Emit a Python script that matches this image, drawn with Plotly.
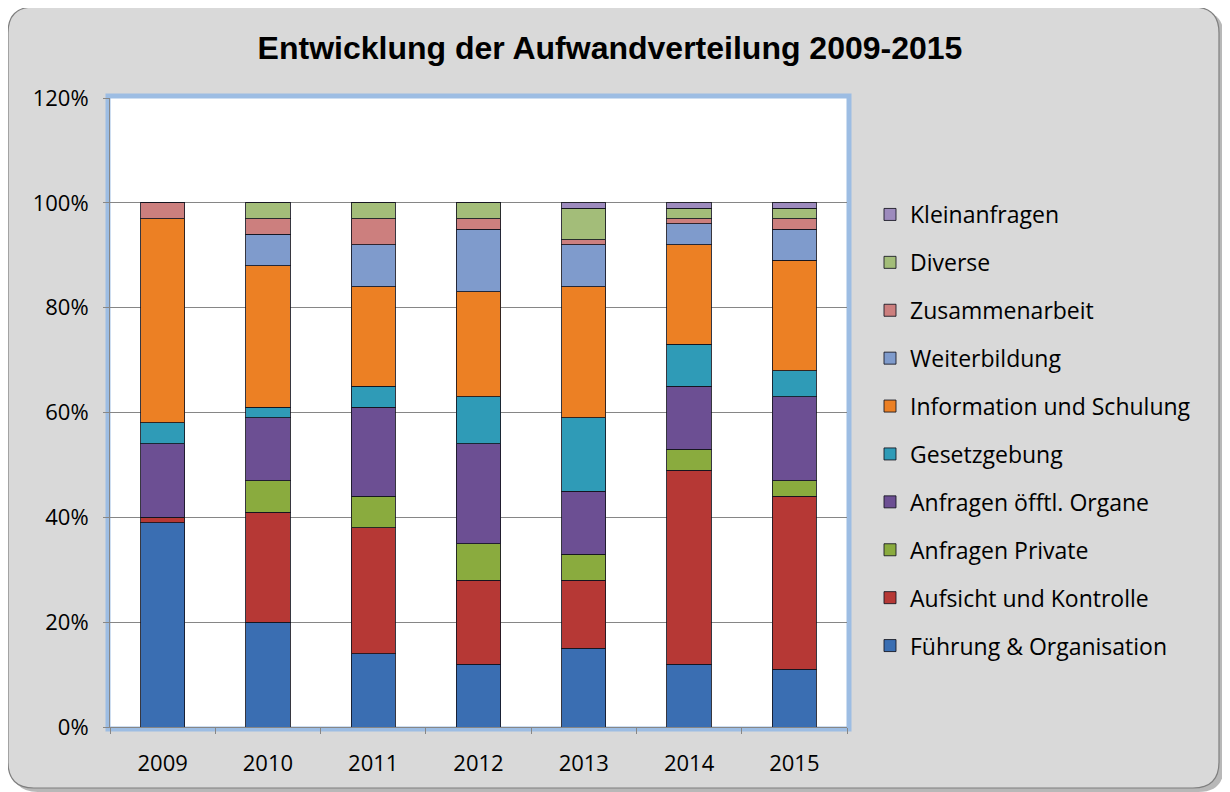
import plotly.graph_objects as go

years = ["2009", "2010", "2011", "2012", "2013", "2014", "2015"]

fuehrung = [39, 20, 14, 12, 15, 12, 11]
aufsicht = [1, 21, 24, 16, 13, 37, 33]
private = [0, 6, 6, 7, 5, 4, 3]
oeffentl = [14, 12, 17, 19, 12, 12, 16]
gesetz = [4, 2, 4, 9, 14, 8, 5]
information = [39, 27, 19, 20, 25, 19, 21]
weiterbildung = [0, 6, 8, 12, 8, 4, 6]
zusammenarbeit = [3, 3, 5, 2, 1, 1, 2]
diverse = [0, 3, 3, 3, 6, 2, 2]
kleinanfragen = [0, 0, 0, 0, 1, 1, 1]

series = [
    ("Führung & Organisation", fuehrung, "#3a6eb2"),
    ("Aufsicht und Kontrolle", aufsicht, "#b63835"),
    ("Anfragen Private", private, "#8aab3e"),
    ("Anfragen öfftl. Organe", oeffentl, "#6c4f93"),
    ("Gesetzgebung", gesetz, "#2f9bb7"),
    ("Information und Schulung", information, "#ec8024"),
    ("Weiterbildung", weiterbildung, "#7f9bcc"),
    ("Zusammenarbeit", zusammenarbeit, "#cc7f7e"),
    ("Diverse", diverse, "#a3bd79"),
    ("Kleinanfragen", kleinanfragen, "#9d8bbd"),
]

# page has an 8px body margin; work in page pixels and shift
OFF = 8
W, H = 1230 - OFF, 792 - OFF
PL, PR, PT, PB = 110 - OFF, 847 - OFF, 98 - OFF, 727 - OFF  # plot area in figure px
pw, ph = PR - PL, PB - PT


def px_x(x):
    return (x - OFF - PL) / pw


def px_y(y):
    return (PB - (y - OFF)) / ph


def rrect(x0, y0, x1, y1, r):
    def P(x, y):
        return f"{px_x(x):.5f},{px_y(y):.5f}"
    return (f"M {P(x0 + r, y0)} L {P(x1 - r, y0)} Q {P(x1, y0)} {P(x1, y0 + r)} "
            f"L {P(x1, y1 - r)} Q {P(x1, y1)} {P(x1 - r, y1)} "
            f"L {P(x0 + r, y1)} Q {P(x0, y1)} {P(x0, y1 - r)} "
            f"L {P(x0, y0 + r)} Q {P(x0, y0)} {P(x0 + r, y0)} Z")


fig = go.Figure()
for i, (name, vals, col) in enumerate(series):
    fig.add_trace(go.Bar(
        x=years, y=vals, name=name, legendgroup=f"g{i}", legendrank=100 - i,
        marker=dict(color=col, line=dict(color="rgba(20,20,30,0.85)", width=1)),
    ))

font_main = "Open Sans, Lato, DejaVu Sans, sans-serif"

shapes = [
    dict(type="path", xref="paper", yref="paper", layer="below",
         path=rrect(12, 11, 1224, 792, 26),
         fillcolor="rgba(0,0,0,0.28)", line=dict(width=0)),
    dict(type="path", xref="paper", yref="paper", layer="below",
         path=rrect(8, 7, 1219, 788, 26),
         fillcolor="#d9d9d9", line=dict(color="#7f7f7f", width=1.2)),
    dict(type="rect", xref="paper", yref="paper", layer="below",
         x0=px_x(110 - 2), x1=px_x(847 + 2), y0=px_y(727 + 2), y1=px_y(98 - 2),
         fillcolor="white", line=dict(color="#9dbde3", width=5)),
]

fig.update_layout(
    width=W, height=H,
    margin=dict(l=PL, r=W - PR, t=PT, b=H - PB, pad=0),
    paper_bgcolor="white", plot_bgcolor="white",
    barmode="stack", bargap=0.58,
    title=dict(text="<b>Entwicklung der Aufwandverteilung 2009-2015</b>",
               x=(610 - OFF) / W, xref="container", xanchor="center",
               y=1 - (48 - OFF) / H, yref="container", yanchor="middle",
               font=dict(family="Liberation Sans, Arial, sans-serif", size=32, color="black")),
    font=dict(family=font_main, size=22, color="black"),
    xaxis=dict(
        showline=True, linecolor="#868686", linewidth=1,
        ticks="outside", ticklen=6, tickcolor="#868686", tickson="boundaries",
        showgrid=False, ticklabelstandoff=17,
        tickfont=dict(size=22, color="black"),
    ),
    yaxis=dict(
        range=[0, 120], dtick=20, ticksuffix="%",
        showline=True, linecolor="#868686", linewidth=1,
        ticks="outside", ticklen=6, tickcolor="#868686",
        showgrid=True, gridcolor="#868686", gridwidth=1,
        zeroline=False, ticklabelstandoff=10,
        tickfont=dict(size=22, color="black"),
    ),
    legend=dict(
        traceorder="grouped", tracegroupgap=15,
        x=px_x(870), xanchor="left", y=px_y(193), yanchor="top",
        xref="paper", yref="paper",
        bgcolor="rgba(0,0,0,0)", font=dict(size=23, color="black"),
        itemwidth=30,
    ),
    shapes=shapes,
    showlegend=True,
)

fig.write_html("out.html")
